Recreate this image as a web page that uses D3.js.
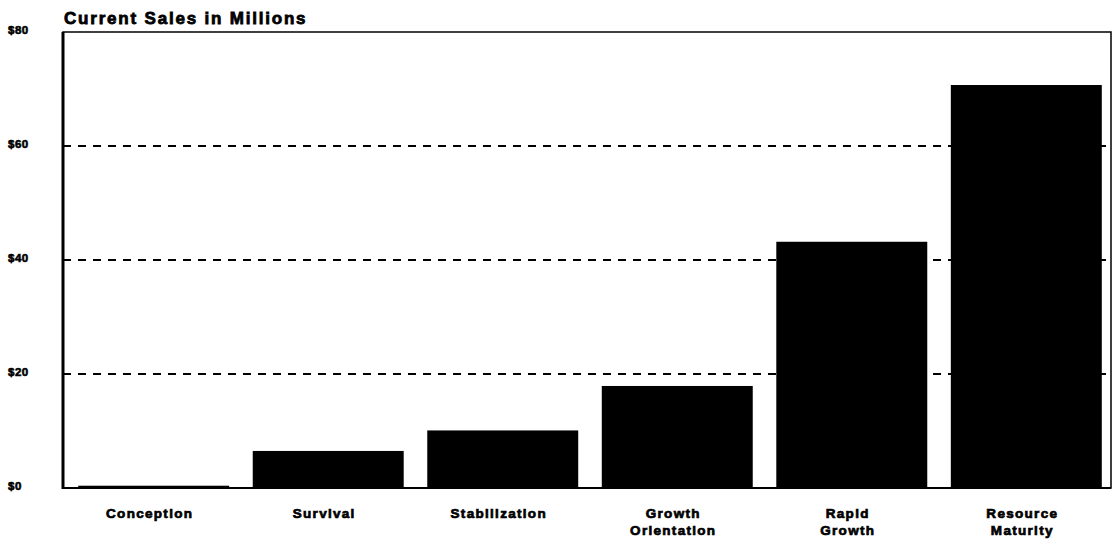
<!DOCTYPE html>
<html><head><meta charset="utf-8">
<script src="https://cdn.jsdelivr.net/npm/d3@7"></script>
<style>body{margin:0;background:#fff;} svg{display:block;}</style>
</head><body>
<svg id="c" width="1117" height="543"></svg>
<script>
const categories = ["Conception","Survival","Stabilization","Growth Orientation","Rapid Growth","Resource Maturity"];
const labelLines = [["Conception"],["Survival"],["Stabilization"],["Growth","Orientation"],["Rapid","Growth"],["Resource","Maturity"]];
const sales = [0.4, 6.5, 10.1, 17.9, 43.2, 70.7];
const tickValues = [0, 20, 40, 60, 80];
const tickLabels = ["$0","$20","$40","$60","$80"];
const title = "Current Sales in Millions";

const svg = d3.select("#c");
const m = {l:63, r:1111, t:32, b:488};
const x = d3.scaleBand().domain(categories).range([m.l+3, m.r+3]).paddingInner(0.135).paddingOuter(0.07);
const y = d3.scaleLinear().domain([0,80]).range([m.b, m.t]);
const font = "Arial, 'Liberation Sans', sans-serif";

// gridlines
svg.append("g").selectAll("line").data(tickValues.filter(v=>v>0 && v<80)).join("line")
  .attr("x1", m.l).attr("x2", m.r).attr("y1", d=>y(d)).attr("y2", d=>y(d))
  .attr("stroke","#000").attr("stroke-width",2).attr("stroke-dasharray","8,7");

// bars
svg.append("g").selectAll("rect").data(categories).join("rect")
  .attr("x", d=>x(d)).attr("width", x.bandwidth())
  .attr("y", (d,i)=>y(sales[i])).attr("height", (d,i)=>y(0)-y(sales[i]))
  .attr("fill","#000");

// frame
svg.append("rect").attr("x",m.l).attr("y",m.t).attr("width",m.r-m.l).attr("height",m.b-m.t)
  .attr("fill","none").attr("stroke","#000").attr("stroke-width",1.5);
svg.append("line").attr("x1",m.l).attr("x2",m.l).attr("y1",m.t).attr("y2",m.b+1)
  .attr("stroke","#000").attr("stroke-width",3);
svg.append("line").attr("x1",m.l).attr("x2",m.r).attr("y1",m.b).attr("y2",m.b)
  .attr("stroke","#000").attr("stroke-width",2);

// y axis
const yAxis = d3.axisLeft(y).tickValues(tickValues).tickFormat((d,i)=>tickLabels[i]).tickSize(0).tickPadding(0);
const gy = svg.append("g").attr("transform",`translate(8,0)`).call(yAxis);
gy.select(".domain").remove();
gy.selectAll("text").attr("text-anchor","start").attr("x",0).attr("dy","0.1em")
  .attr("font-family",font).attr("font-weight","900").attr("font-size","11.5px")
  .attr("letter-spacing","0.5px").attr("stroke","#000").attr("stroke-width",0.6).attr("fill","#000");

// x labels
const gx = svg.append("g");
categories.forEach((c,i)=>{
  const cx = x(c)+x.bandwidth()/2 - 4;
  const t = gx.append("text").attr("x", cx).attr("y", 518)
    .attr("text-anchor","middle").attr("font-family",font).attr("font-weight","900")
    .attr("font-size","13.5px").attr("letter-spacing","1.3px")
    .attr("stroke","#000").attr("stroke-width",0.7).attr("fill","#000");
  labelLines[i].forEach((ln,j)=>t.append("tspan").attr("x", cx).attr("dy", j===0?0:17).text(ln));
});

// title
svg.append("text").attr("x",64).attr("y",24).attr("font-family",font).attr("font-weight","900")
  .attr("font-size","17px").attr("letter-spacing","1.8px")
  .attr("stroke","#000").attr("stroke-width",0.8).attr("fill","#000").text(title);
</script>
</body></html>
